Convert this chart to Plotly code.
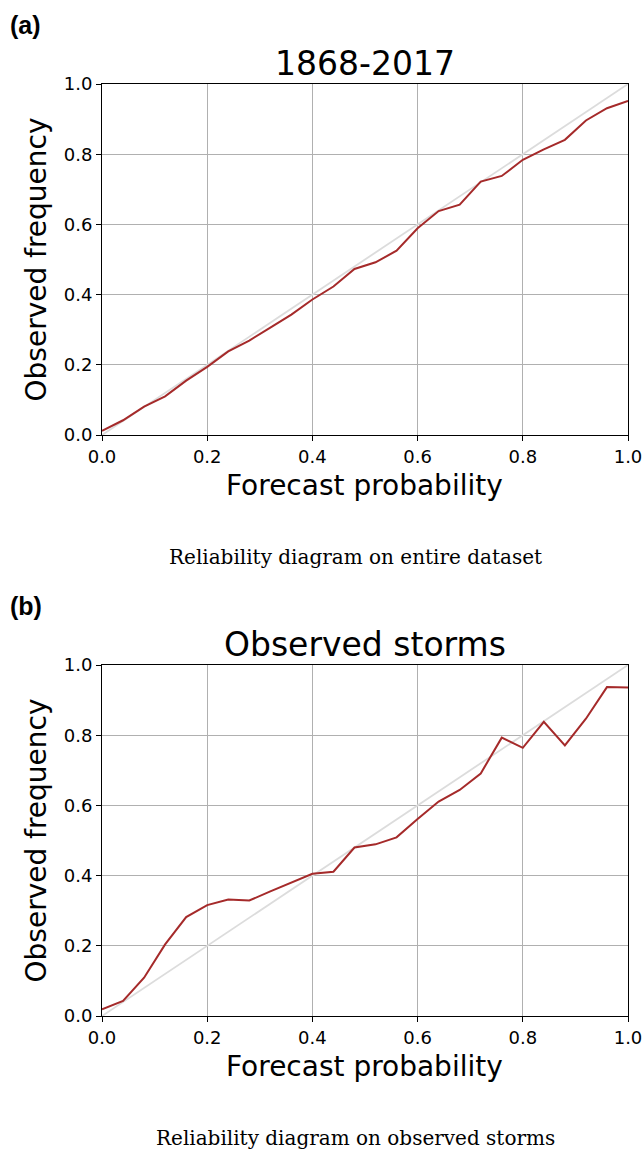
import plotly.graph_objects as go

# ---- data ----
forecast_prob = [0.00, 0.04, 0.08, 0.12, 0.16, 0.20, 0.24, 0.28, 0.32, 0.36, 0.40, 0.44, 0.48,
                 0.52, 0.56, 0.60, 0.64, 0.68, 0.72, 0.76, 0.80, 0.84, 0.88, 0.92, 0.96, 1.00]
obs_freq_all = [0.012, 0.042, 0.081, 0.110, 0.155, 0.194, 0.238, 0.269, 0.306, 0.343, 0.386, 0.423, 0.473,
                0.492, 0.525, 0.589, 0.638, 0.656, 0.722, 0.738, 0.784, 0.814, 0.841, 0.896, 0.931, 0.952]
obs_freq_storms = [0.019, 0.043, 0.109, 0.204, 0.282, 0.316, 0.332, 0.329, 0.355, 0.379, 0.405, 0.411, 0.480,
                   0.489, 0.509, 0.561, 0.611, 0.644, 0.691, 0.793, 0.764, 0.838, 0.771, 0.847, 0.937, 0.936]
diag = [0.0, 1.0]

panel_titles = ["1868-2017", "Observed storms"]
panel_tags = ["(a)", "(b)"]
captions = ["Reliability diagram on entire dataset", "Reliability diagram on observed storms"]
x_title = "Forecast probability"
y_title = "Observed frequency"
tick_vals = [0.0, 0.2, 0.4, 0.6, 0.8, 1.0]
tick_text = ["0.0", "0.2", "0.4", "0.6", "0.8", "1.0"]

W, H = 643, 1151
def px_x(x): return x / W
def px_y(y): return 1 - y / H

LEFT, RIGHT = 102, 628
panels_px = [(84, 435), (665, 1016)]
RED = "#a52a2a"
FONT = "DejaVu Sans"

fig = go.Figure()
series = [obs_freq_all, obs_freq_storms]
annotations = []
for i, (top, bot) in enumerate(panels_px):
    xa = "x" if i == 0 else "x2"
    ya = "y" if i == 0 else "y2"
    fig.add_trace(go.Scatter(x=diag, y=diag, mode="lines", xaxis=xa, yaxis=ya,
                             line=dict(color="#dcdcdc", width=1.8), showlegend=False, hoverinfo="skip"))
    fig.add_trace(go.Scatter(x=forecast_prob, y=series[i], mode="lines", xaxis=xa, yaxis=ya,
                             line=dict(color=RED, width=2), showlegend=False))
    axis_common = dict(range=[0, 1], tickvals=tick_vals, ticktext=tick_text,
                       showgrid=True, gridcolor="#b0b0b0", gridwidth=1,
                       showline=True, linecolor="black", linewidth=1, mirror=True,
                       ticks="outside", ticklen=5, tickcolor="black", tickwidth=1,
                       tickfont=dict(family=FONT, size=18, color="black"),
                       zeroline=False, fixedrange=True, automargin=False)
    xkey = "xaxis" if i == 0 else "xaxis2"
    ykey = "yaxis" if i == 0 else "yaxis2"
    fig.update_layout(**{
        xkey: dict(domain=[px_x(LEFT), px_x(RIGHT)], anchor=ya, **axis_common),
        ykey: dict(domain=[px_y(bot), px_y(top)], anchor=xa, **axis_common),
    })
    cx = (LEFT + RIGHT) / 2
    annotations += [
        dict(text=panel_titles[i], x=px_x(cx), y=px_y(top - 21), xref="paper", yref="paper",
             showarrow=False, font=dict(family=FONT, size=33, color="black"),
             xanchor="center", yanchor="middle"),
        dict(text="<b>" + panel_tags[i] + "</b>", x=px_x(8), y=px_y(top - 59), xref="paper", yref="paper",
             showarrow=False, font=dict(family="Liberation Sans", size=25, color="black"),
             xanchor="left", yanchor="middle"),
        dict(text=x_title, x=px_x(cx), y=px_y(bot + 50), xref="paper", yref="paper",
             showarrow=False, font=dict(family=FONT, size=28, color="black"),
             xanchor="center", yanchor="middle"),
        dict(text=y_title, x=px_x(36), y=px_y((top + bot) / 2), xref="paper", yref="paper",
             showarrow=False, textangle=-90, font=dict(family=FONT, size=28, color="black"),
             xanchor="center", yanchor="middle"),
        dict(text=captions[i], x=px_x(355), y=px_y(bot + 122), xref="paper", yref="paper",
             showarrow=False, font=dict(family="DejaVu Serif", size=20, color="black"),
             xanchor="center", yanchor="middle"),
    ]

fig.update_layout(width=W, height=H, margin=dict(l=0, r=0, t=0, b=0, autoexpand=False),
                  paper_bgcolor="white", plot_bgcolor="white",
                  annotations=annotations, showlegend=False)

fig.write_html("out.html", config={"displayModeBar": False},
               post_script="document.body.style.margin='0';document.body.style.overflow='hidden';")
